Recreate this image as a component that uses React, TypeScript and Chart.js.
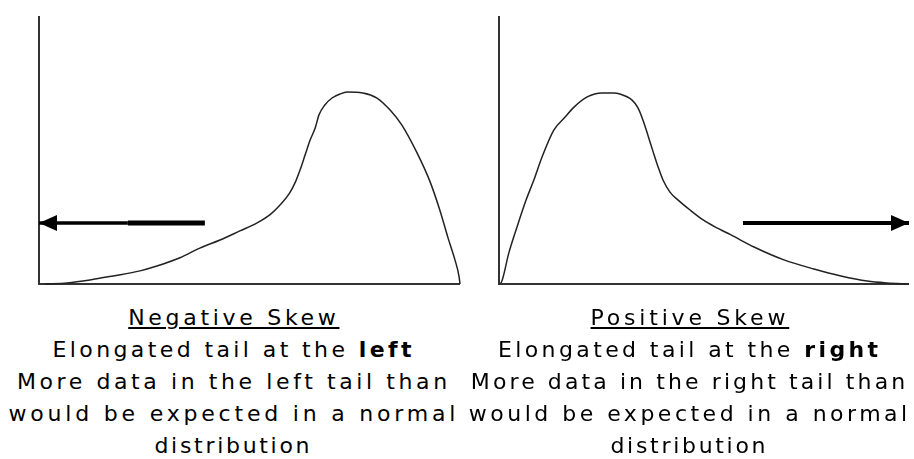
import React, { useEffect, useRef } from "react";
import { Chart, registerables } from "chart.js";

Chart.register(...registerables);

// Negative skew curve (x: 0..100 along the axis, y: 0..100 height)
const negX = [1.4, 6.7, 12.1, 17.6, 24.0, 28.0, 33.5, 38.2, 43.0, 47.7, 51.8, 54.9, 57.2, 59.4, 61.0, 62.0, 63.2, 64.4, 65.6, 66.5, 67.9, 69.6, 71.5, 73.2, 76.9, 80.3, 83.4, 86.2, 89.8, 92.9, 95.2, 97.1, 98.8, 99.8, 100];
const negY = [0, 0.4, 1.5, 3.0, 4.9, 6.7, 9.8, 13.4, 16.4, 19.8, 22.8, 25.9, 29.4, 33.6, 38.4, 42.5, 48.1, 53.7, 58.2, 63.1, 66.8, 69.4, 70.9, 71.6, 71.3, 69.4, 64.9, 59.3, 48.9, 38.1, 27.6, 17.5, 9.0, 2.6, 0];

// Positive skew curve
const posX = [0, 0.5, 2.4, 4.4, 6.6, 8.5, 10.5, 13.4, 15.9, 18.3, 21.5, 25.1, 28.0, 29.5, 32.4, 33.9, 35.1, 36.3, 37.6, 38.8, 40.0, 41.7, 43.7, 46.6, 49.8, 52.7, 56.6, 62.2, 69.5, 76.8, 83.4, 89.8, 94.6, 100];
const posY = [0, 0.4, 11.6, 21.3, 31.3, 38.8, 47.4, 57.5, 61.9, 66.0, 69.8, 71.3, 71.3, 70.9, 68.7, 65.7, 61.2, 55.6, 49.3, 43.7, 38.8, 34.3, 31.3, 27.6, 23.9, 21.3, 18.3, 13.8, 9.0, 5.6, 3.0, 1.1, 0.4, 0];

// Arrows: [start, end(tip)] along x, at height arrowY
const negArrowThickX = [39.4, 21.1];
const negArrowThinX = [21.1, 0];
const posArrowX = [59.5, 100];
const arrowY = 22.8;

const negText = {
  title: "Negative Skew",
  line2a: "Elongated tail at the ",
  line2b: "left",
  line3: "More data in the left tail than",
  line4: "would be expected in a normal",
  line5: "distribution",
};
const posText = {
  title: "Positive Skew",
  line2a: "Elongated tail at the ",
  line2b: "right",
  line3: "More data in the right tail than",
  line4: "would be expected in a normal",
  line5: "distribution",
};

const toPts = (xs: number[], ys: number[]) => xs.map((x, i) => ({ x, y: ys[i] }));

const axesArrowPlugin = {
  id: "axesArrow",
  beforeDatasetsDraw(chart: any) {
    const { ctx, chartArea } = chart;
    ctx.save();
    ctx.strokeStyle = "#333";
    ctx.lineWidth = 2;
    ctx.beginPath();
    ctx.moveTo(chartArea.left, chartArea.top);
    ctx.lineTo(chartArea.left, chartArea.bottom);
    ctx.lineTo(chartArea.right, chartArea.bottom);
    ctx.stroke();
    ctx.restore();
  },
  afterDatasetsDraw(chart: any) {
    const { ctx } = chart;
    chart.data.datasets.forEach((ds: any, i: number) => {
      if (!ds.arrowHead) return;
      const meta = chart.getDatasetMeta(i);
      const pts = meta.data;
      const tip = pts[pts.length - 1];
      const prev = pts[pts.length - 2];
      const dir = Math.sign(tip.x - prev.x) || 1;
      const len = 18;
      const half = 8;
      ctx.save();
      ctx.fillStyle = "#000";
      ctx.beginPath();
      ctx.moveTo(tip.x, tip.y);
      ctx.lineTo(tip.x - dir * len, tip.y - half);
      ctx.lineTo(tip.x - dir * len, tip.y + half);
      ctx.closePath();
      ctx.fill();
      ctx.restore();
    });
  },
};

function makeConfig(datasets: any[], padLeft: number, padRight: number): any {
  return {
    type: "line",
    data: { datasets },
    options: {
      animation: false,
      responsive: false,
      events: [],
      layout: { padding: { left: padLeft, right: padRight, top: 16, bottom: 16 } },
      plugins: { legend: { display: false }, tooltip: { enabled: false } },
      elements: { point: { radius: 0 } },
      scales: {
        x: { type: "linear", min: 0, max: 100, display: false },
        y: { type: "linear", min: 0, max: 100, display: false },
      },
    },
    plugins: [axesArrowPlugin],
  };
}

function Panel({ left, width, datasets, padLeft, padRight }: any) {
  const ref = useRef<HTMLCanvasElement>(null);
  useEffect(() => {
    const chart = new Chart(ref.current as HTMLCanvasElement, makeConfig(datasets, padLeft, padRight));
    return () => chart.destroy();
  }, []);
  return (
    <canvas
      ref={ref}
      width={width}
      height={300}
      style={{ position: "absolute", left, top: 0, width, height: 300 }}
    />
  );
}

const textStyle: React.CSSProperties = {
  position: "absolute",
  top: 302,
  fontFamily: "'DejaVu Sans', Verdana, sans-serif",
  fontSize: 22,
  lineHeight: "32px",
  textAlign: "center",
  whiteSpace: "nowrap",
  color: "#000",
};

const sp = (ls: number): React.CSSProperties => ({ letterSpacing: ls + "px", paddingLeft: ls });

function TextBlock({ left, width, t, ls }: any) {
  return (
    <div style={{ ...textStyle, left, width }}>
      <div style={{ ...sp(ls[0]) }}>
        <span style={{ textDecoration: "underline" }}>{t.title}</span>
      </div>
      <div style={sp(ls[1])}>
        {t.line2a}
        <b>{t.line2b}</b>
      </div>
      <div style={sp(ls[2])}>{t.line3}</div>
      <div style={sp(ls[3])}>{t.line4}</div>
      <div style={sp(ls[4])}>{t.line5}</div>
    </div>
  );
}

export default function App() {
  const curveStyle = { borderColor: "#222", borderWidth: 1.5, cubicInterpolationMode: "monotone", fill: false, clip: false };
  const negDatasets = [
    { ...curveStyle, data: toPts(negX, negY) },
    { data: toPts(negArrowThickX, [arrowY, arrowY]), borderColor: "#000", borderWidth: 5, clip: false },
    { data: toPts(negArrowThinX, [arrowY, arrowY]), borderColor: "#000", borderWidth: 3.5, clip: false, arrowHead: true },
  ];
  const posDatasets = [
    { ...curveStyle, data: toPts(posX, posY) },
    { data: toPts(posArrowX, [arrowY, arrowY]), borderColor: "#000", borderWidth: 4, clip: false, arrowHead: true },
  ];
  return (
    <div style={{ position: "fixed", left: 0, top: 0, width: 914, height: 459, background: "#fff", overflow: "hidden" }}>
      <Panel left={0} width={470} datasets={negDatasets} padLeft={39} padRight={10} />
      <Panel left={460} width={454} datasets={posDatasets} padLeft={39} padRight={5} />
      <TextBlock left={0} width={464} t={negText} ls={[3.7, 3.4, 3.6, 3.8, 2.7]} />
      <TextBlock left={464} width={448} t={posText} ls={[3.8, 3.4, 3.1, 3.5, 2.7]} />
    </div>
  );
}
